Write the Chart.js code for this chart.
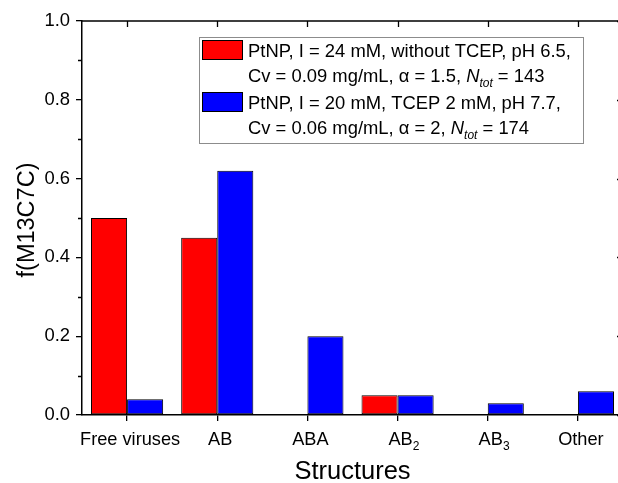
<!DOCTYPE html>
<html>
<head>
<meta charset="utf-8">
<script src="https://cdn.jsdelivr.net/npm/chart.js@4/dist/chart.umd.min.js"></script>
<style>
  html, body { margin: 0; padding: 0; overflow: hidden; background: #fff; width: 618px; height: 483px; }
  canvas { display: block; position: absolute; left: 0; top: 0; }
</style>
</head>
<body>
<canvas id="c" width="640" height="483"></canvas>
<script>
// Structure categories (Unicode subscripts are drawn as small lowered digits)
const categories = ['Free viruses', 'AB', 'ABA', 'AB₂', 'AB₃', 'Other'];

// Fraction of each structure for the two preparation conditions
const valuesNoTCEP = [0.50, 0.45, 0, 0.05, 0, 0];
const valuesTCEP   = [0.04, 0.62, 0.20, 0.05, 0.03, 0.06];

// Legend text, one entry per series, two lines each ("N_tot" = italic N with subscript tot)
const legendNoTCEP = ['PtNP, I = 24 mM, without TCEP, pH 6.5,', 'Cv = 0.09 mg/mL, α = 1.5, N_tot = 143'];
const legendTCEP   = ['PtNP, I = 20 mM, TCEP 2 mM, pH 7.7,', 'Cv = 0.06 mg/mL, α = 2, N_tot = 174'];

// Y axis ticks
const yMajorTicks = [0.0, 0.2, 0.4, 0.6, 0.8, 1.0];
const yMinorTicks = [0.1, 0.3, 0.5, 0.7, 0.9];

const xTitle = 'Structures';
const yTitle = 'f(M13C7C)';

const FONT = "'Liberation Sans', Arial, sans-serif";
const RED = '#ff0000';
const BLUE = '#0000ff';

const SUB_MAP = { '₀':'0','₁':'1','₂':'2','₃':'3','₄':'4','₅':'5','₆':'6','₇':'7','₈':'8','₉':'9' };

// Split a label into runs of normal / subscript / italic text
function toRuns(str) {
  const runs = [];
  const parts = str.split(/(N_tot)/);
  for (const p of parts) {
    if (!p) continue;
    if (p === 'N_tot') {
      runs.push({ t: 'N', italic: true });
      runs.push({ t: 'tot', italic: true, sub: true });
      continue;
    }
    let buf = '';
    for (const ch of p) {
      if (SUB_MAP[ch]) {
        if (buf) { runs.push({ t: buf }); buf = ''; }
        runs.push({ t: SUB_MAP[ch], sub: true });
      } else buf += ch;
    }
    if (buf) runs.push({ t: buf });
  }
  return runs;
}

function runFont(r, size, subSize) {
  return (r.italic ? 'italic ' : '') + (r.sub ? subSize : size) + 'px ' + FONT;
}

// Draws runs starting at x; if centerMain, the non-subscript part is centred on x
function drawRuns(ctx, runs, x, baseline, size, subSize, subDrop, centerMain) {
  ctx.textAlign = 'left';
  ctx.textBaseline = 'alphabetic';
  if (centerMain) {
    let w = 0;
    for (const r of runs) { if (r.sub) continue; ctx.font = runFont(r, size, subSize); w += ctx.measureText(r.t).width; }
    x -= w / 2;
  }
  for (const r of runs) {
    ctx.font = runFont(r, size, subSize);
    ctx.fillText(r.t, x, baseline + (r.sub ? subDrop : 0));
    x += ctx.measureText(r.t).width;
  }
}

const framePlugin = {
  id: 'frame',
  afterDraw(chart) {
    const { ctx, chartArea: a, scales } = chart;
    const xs = scales.x, ys = scales.y;
    ctx.save();
    ctx.strokeStyle = '#000';
    ctx.fillStyle = '#000';

    // Mirrored top and right axes
    ctx.lineWidth = 1.5;
    ctx.beginPath();
    ctx.moveTo(a.left, a.top); ctx.lineTo(a.right + 1, a.top);
    ctx.moveTo(a.right, a.top); ctx.lineTo(a.right, a.bottom);
    ctx.stroke();

    ctx.lineWidth = 1.3;
    ctx.beginPath();
    categories.forEach((c, i) => {
      const px = Math.round(xs.getPixelForValue(i)) + 0.5;
      ctx.moveTo(px, a.top); ctx.lineTo(px, a.top + 6);
    });
    yMajorTicks.forEach(v => {
      const py = Math.round(ys.getPixelForValue(v)) + 0.5;
      ctx.moveTo(a.right, py); ctx.lineTo(a.right - 6, py);
    });
    yMinorTicks.forEach(v => {
      const py = Math.round(ys.getPixelForValue(v)) + 0.5;
      ctx.moveTo(a.right, py); ctx.lineTo(a.right - 3, py);
      ctx.moveTo(a.left, py); ctx.lineTo(a.left - 4, py);
    });
    ctx.stroke();

    // Category labels
    categories.forEach((c, i) => {
      drawRuns(ctx, toRuns(c), xs.getPixelForValue(i) + 3, 445, 18.2, 12, 5, true);
    });

    // Axis titles
    ctx.font = '25.5px ' + FONT;
    ctx.textAlign = 'center';
    ctx.textBaseline = 'alphabetic';
    ctx.fillText(xTitle, (a.left + a.right) / 2, 479);

    ctx.save();
    ctx.translate(34, (a.top + a.bottom) / 2 + 2);
    ctx.rotate(-Math.PI / 2);
    ctx.font = '23.5px ' + FONT;
    ctx.fillText(yTitle, 0, 0);
    ctx.restore();

    // Legend box
    const box = { l: 199.5, t: 37.5, r: 583.5, b: 143.5 };
    ctx.fillStyle = '#fff';
    ctx.fillRect(box.l, box.t, box.r - box.l, box.b - box.t);
    ctx.strokeStyle = '#8c8c8c';
    ctx.lineWidth = 1;
    ctx.strokeRect(box.l, box.t, box.r - box.l, box.b - box.t);

    const entries = [
      { lines: legendNoTCEP, color: chart.data.datasets[0].backgroundColor, top: 40 },
      { lines: legendTCEP,   color: chart.data.datasets[1].backgroundColor, top: 92 }
    ];
    entries.forEach(e => {
      ctx.fillStyle = e.color;
      ctx.fillRect(202, e.top, 41, 20);
      ctx.strokeStyle = '#000';
      ctx.lineWidth = 1;
      ctx.strokeRect(202.5, e.top + 0.5, 40, 19);
      ctx.fillStyle = '#000';
      e.lines.forEach((ln, k) => {
        drawRuns(ctx, toRuns(ln), 248, e.top + 16.5 + k * 25, 18.4, 12, 5, false);
      });
    });
    ctx.restore();
  }
};

new Chart(document.getElementById('c'), {
  type: 'bar',
  data: {
    labels: categories,
    datasets: [
      { label: legendNoTCEP.join(' '), data: valuesNoTCEP, backgroundColor: RED, borderColor: '#000', borderWidth: 1 },
      { label: legendTCEP.join(' '), data: valuesTCEP, backgroundColor: BLUE, borderColor: '#000', borderWidth: 1 }
    ]
  },
  options: {
    responsive: false,
    animation: false,
    devicePixelRatio: 1,
    layout: { padding: { left: 0, top: 21, right: 17, bottom: 0 } },
    datasets: { bar: { categoryPercentage: 0.8, barPercentage: 1.0, borderSkipped: false } },
    plugins: { legend: { display: false }, tooltip: { enabled: false } },
    scales: {
      x: {
        type: 'category',
        z: 1,
        offset: true,
        ticks: { display: false },
        grid: { offset: false, drawOnChartArea: false, drawTicks: true, tickLength: 6, color: '#000', lineWidth: 1.3 },
        border: { display: true, color: '#000', width: 1.5 },
        afterFit(s) { s.height = 68; }
      },
      y: {
        min: 0,
        max: 1,
        z: 1,
        afterBuildTicks(s) { s.ticks = yMajorTicks.map(v => ({ value: v })); },
        ticks: {
          color: '#000',
          padding: 6,
          font: { family: FONT, size: 18.4 },
          callback: v => Number(v).toFixed(1)
        },
        grid: { drawOnChartArea: false, drawTicks: true, tickLength: 6, color: '#000', lineWidth: 1.3 },
        border: { display: true, color: '#000', width: 1.5 },
        afterFit(s) { s.width = 82; }
      }
    }
  },
  plugins: [framePlugin]
});
</script>
</body>
</html>
